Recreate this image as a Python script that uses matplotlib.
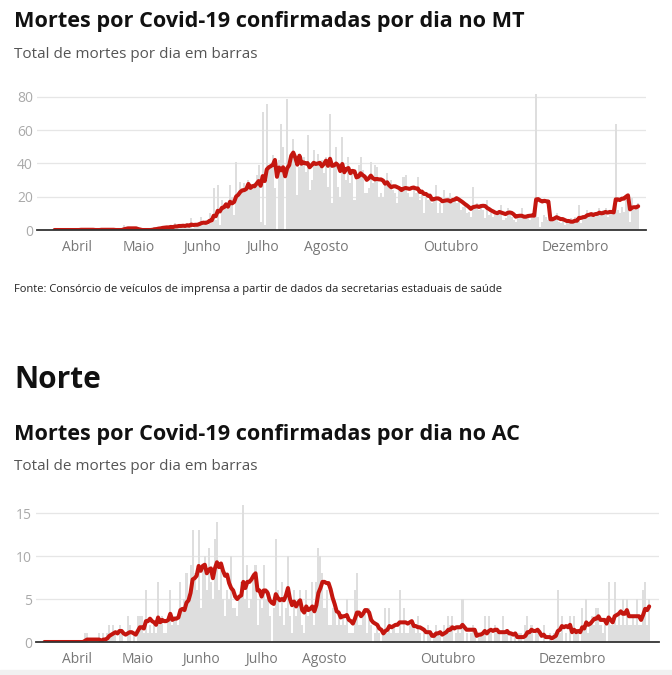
import pandas as pd
import matplotlib
matplotlib.use("Agg")
import matplotlib.pyplot as plt
from matplotlib.patches import Rectangle

plt.rcParams['font.family'] = ['Open Sans', 'DejaVu Sans']

##### DADOS #####

# mortes diarias MT, 21/03/2020 a 01/01/2021
mt_inicio = "2020-03-21"
mt_mortes = [
    0, 0, 0, 0, 0, 0, 0,   0, 0, 0, 0, 0, 0, 1,   0, 0, 0, 0, 0, 0, 0,
    0, 0, 1, 0, 0, 0, 0,   0, 0, 0, 0, 0, 0, 3,   2, 2, 0, 0, 0, 0, 0,
    0, 0, 0, 0, 0, 0, 1,   2, 1, 2, 1, 2, 1, 2,   2, 3, 1, 4, 2, 3, 2,
    3, 2, 4, 2, 7, 1, 3,   3, 5, 8, 4, 6, 3, 10,  4, 25, 6, 27, 3, 18, 12,
    17, 15, 27, 20, 9, 41, 19,   29, 22, 28, 25, 30, 24, 27,
    28, 33, 39, 5, 71, 3, 76,    37, 38, 45, 25, 0, 42, 64,
    50, 0, 79, 38, 40, 55, 42,   21, 38, 45, 44, 35, 57, 24,
    30, 48, 40, 46, 38, 42, 34,  44, 26, 70, 16, 40, 50, 26,
    20, 56, 35, 30, 44, 28, 36,  18, 30, 39, 44, 36, 22, 22,
    25, 41, 28, 39, 38, 20, 22,  20, 28, 34, 26, 30, 24, 22,
    16, 24, 26, 32, 33, 22, 20,  20, 26, 22, 32, 18, 24, 10,
    20, 18, 22, 16, 20, 27, 10,  16, 10, 24, 18, 20, 22, 16,
    18, 16, 19, 12, 14, 15, 10,  11, 8, 26, 14, 16, 12, 14,
    12, 7, 18, 9, 10, 8, 9,      10, 12, 15, 6, 7, 13, 11,
    8, 6, 5, 9, 8, 13, 7,        8, 9, 6, 10, 7, 82, 8,
    2, 5, 9, 8, 6, 7, 8,         6, 10, 5, 4, 6, 3, 4,
    6, 7, 5, 8, 6, 15, 4,        9, 8, 12, 10, 9, 11, 8,
    10, 13, 9, 12, 13, 8, 11,    10, 11, 64, 12, 10, 14, 11,
    18, 17, 5, 19, 12, 13, 16,
]

# mortes diarias AC, 16/03/2020 a 08/01/2021
ac_inicio = "2020-03-16"
ac_mortes = [
    0, 0, 0, 0, 0, 0, 0,   0, 0, 0, 0, 0, 0, 0,   0, 0, 0, 0, 0, 0, 1,
    1, 0, 0, 0, 0, 0, 1,   0, 1, 0, 1, 2, 1, 2,   1, 0, 2, 1, 0, 0, 3,
    2, 0, 1, 0, 3, 3, 3,   1, 6, 1, 2, 1, 2, 1,   7, 2, 3, 1, 1, 3, 6,
    2, 3, 3, 2, 7, 4, 5,   8, 5, 9, 13, 8, 6, 13, 4, 9, 10, 6, 11, 7, 5,
    12, 14, 6, 9, 5, 3, 6,  5, 10, 4, 4, 3, 5, 7,  16, 5, 9, 4, 5, 8, 9,
    2, 5, 4, 9, 5, 6, 3,   0, 4, 12, 6, 3, 7, 2,  4, 10, 3, 1, 6, 3, 5,
    6, 2, 1, 6, 3, 4, 7,   2, 7, 11, 10, 8, 4, 6, 2, 2, 4, 5, 2, 3, 2,
    3, 2, 5, 1, 1, 1, 6,   8, 2, 2, 3, 4, 1, 4,   2, 0, 1, 2, 1, 0, 1,
    4, 1, 4, 1, 2, 1, 1,   6, 1, 4, 1, 1, 2, 2,   2, 1, 3, 1, 0, 1, 0,
    2, 1, 0, 1, 2, 1, 1,   0, 2, 1, 3, 2, 3, 0,   1, 2, 1, 5, 0, 1, 0,
    1, 2, 1, 0, 1, 1, 1,   3, 0, 3, 1, 0, 2, 1,   1, 0, 3, 1, 1, 0, 1,
    0, 1, 0, 1, 1, 0, 2,   3, 1, 2, 0, 1, 1, 0,   0, 2, 0, 0, 1, 0, 1,
    1, 6, 1, 3, 0, 1, 0,   3, 0, 3, 1, 1, 0, 4,   2, 5, 1, 2, 3, 2, 4,
    4, 2, 1, 2, 0, 7, 2,   2, 7, 2, 3, 2, 5, 2,   5, 2, 2, 3, 2, 5, 2,
    2, 6, 7, 2, 5,
]

meses = ["2020-04-01", "2020-05-01", "2020-06-01", "2020-07-01",
         "2020-08-01", "2020-10-01", "2020-12-01"]
meses_nomes = ["Abril", "Maio", "Junho", "Julho", "Agosto", "Outubro", "Dezembro"]

mt_yticks = [0, 20, 40, 60, 80]
ac_yticks = [0, 5, 10, 15]

titulo_mt = "Mortes por Covid-19 confirmadas por dia no MT"
titulo_ac = "Mortes por Covid-19 confirmadas por dia no AC"
subtitulo = "Total de mortes por dia em barras"
fonte = "Fonte: Consórcio de veículos de imprensa a partir de dados da secretarias estaduais de saúde"


##### ESTILO #####

cor_barra = "#dedede"
cor_linha = "#c4160f"
cor_grade = "#e6e6e6"


def grafico(ax, inicio, mortes, yticks, ylim, xlim):
    dias = pd.date_range(inicio, periods=len(mortes), freq="D")
    s = pd.Series(mortes, index=dias)
    media = s.rolling(7, min_periods=1).mean()

    ax.bar(s.index, s.values, width=1.0, color=cor_barra, linewidth=0, zorder=1)
    ax.plot(media.index, media.values, color=cor_linha, lw=2.9,
            solid_joinstyle="round", solid_capstyle="round", zorder=3)

    for t in yticks[1:]:
        ax.axhline(t, color=cor_grade, lw=0.9, zorder=0)

    ax.set_ylim(ylim)
    ax.set_xlim(pd.Timestamp(xlim[0]), pd.Timestamp(xlim[1]))
    ax.set_yticks(yticks)
    ax.set_xticks(pd.to_datetime(meses))
    ax.set_xticklabels(meses_nomes)

    for lado in ["top", "right", "left"]:
        ax.spines[lado].set_visible(False)
    ax.spines["bottom"].set_color("#333333")
    ax.spines["bottom"].set_linewidth(1.3)
    ax.spines["bottom"].set_zorder(4)
    ax.tick_params(axis="x", length=0, pad=7, labelsize=10, labelcolor="#777777")
    ax.tick_params(axis="y", length=0, pad=3, labelsize=10, labelcolor="#aaaaaa")


fig = plt.figure(figsize=(6.72, 6.75), dpi=100)

ax1 = fig.add_axes([37 / 672, 1 - 230 / 675, 609 / 672, 138 / 675])
grafico(ax1, mt_inicio, mt_mortes, mt_yticks, (0, 83),
        ("2020-03-12 10:00", "2021-01-04 20:00"))

ax2 = fig.add_axes([36 / 672, 33 / 675, 623 / 672, 140 / 675])
grafico(ax2, ac_inicio, ac_mortes, ac_yticks, (0, 16.3),
        ("2020-03-11 20:00", "2021-01-12 20:00"))

fig.text(14 / 672, 1 - 27 / 675, titulo_mt, fontsize=15.6, fontweight="bold",
         color="#111111", va="baseline")
fig.text(14 / 672, 1 - 58 / 675, subtitulo, fontsize=11.0, color="#555555", va="baseline")
fig.text(14 / 672, 1 - 292 / 675, fonte, fontsize=8.05, color="#222222", va="baseline")
fig.text(14 / 672, 1 - 388 / 675, "Norte", fontsize=21.5, fontweight="bold",
         color="#111111", va="baseline")
fig.text(14 / 672, 1 - 440 / 675, titulo_ac, fontsize=15.6, fontweight="bold",
         color="#111111", va="baseline")
fig.text(14 / 672, 1 - 470 / 675, subtitulo, fontsize=11.0, color="#555555", va="baseline")

# faixa cinza no pe
fig.patches.append(Rectangle((0, 0), 1, 5 / 675, transform=fig.transFigure,
                             color="#f1f1f1", zorder=0))

fig.savefig("out.png", dpi=100)
